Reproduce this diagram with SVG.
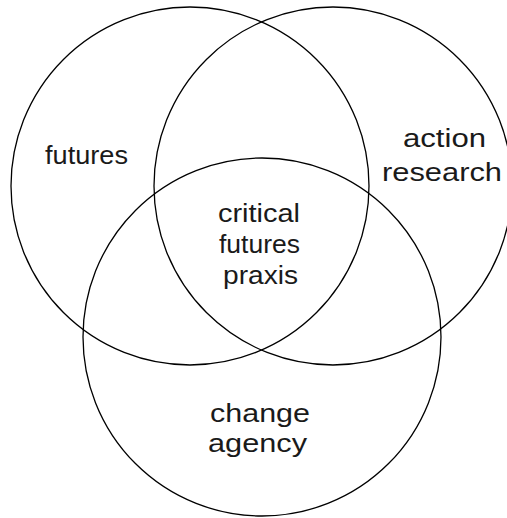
<svg xmlns="http://www.w3.org/2000/svg" width="507" height="518" viewBox="0 0 507 518">
  <style>
    .set { fill: none; stroke: #000; stroke-width: 1.3; }
    .lbl { font-family: "Liberation Sans", Arial, sans-serif; font-size: 26px; fill: #1a1a1a; text-anchor: middle; }
  </style>
  <rect width="507" height="518" fill="#fff"/>
  <!-- three overlapping sets -->
  <g id="futures">
    <circle class="set" cx="190" cy="186" r="179"/>
    <text class="lbl" x="86.5" y="164" textLength="83" lengthAdjust="spacingAndGlyphs">futures</text>
  </g>
  <g id="action-research">
    <circle class="set" cx="333" cy="186" r="179"/>
    <text class="lbl" x="444.5" y="147" textLength="83" lengthAdjust="spacingAndGlyphs">action</text>
    <text class="lbl" x="442" y="181" textLength="120" lengthAdjust="spacingAndGlyphs">research</text>
  </g>
  <g id="change-agency">
    <circle class="set" cx="262" cy="337" r="179"/>
    <text class="lbl" x="260" y="422" textLength="100" lengthAdjust="spacingAndGlyphs">change</text>
    <text class="lbl" x="257.5" y="452" textLength="99" lengthAdjust="spacingAndGlyphs">agency</text>
  </g>
  <g id="critical-futures-praxis">
    <text class="lbl" x="259" y="222" textLength="82" lengthAdjust="spacingAndGlyphs">critical</text>
    <text class="lbl" x="259.5" y="253" textLength="81" lengthAdjust="spacingAndGlyphs">futures</text>
    <text class="lbl" x="260.5" y="284" textLength="75" lengthAdjust="spacingAndGlyphs">praxis</text>
  </g>
  <g id="connectors"/>
</svg>
